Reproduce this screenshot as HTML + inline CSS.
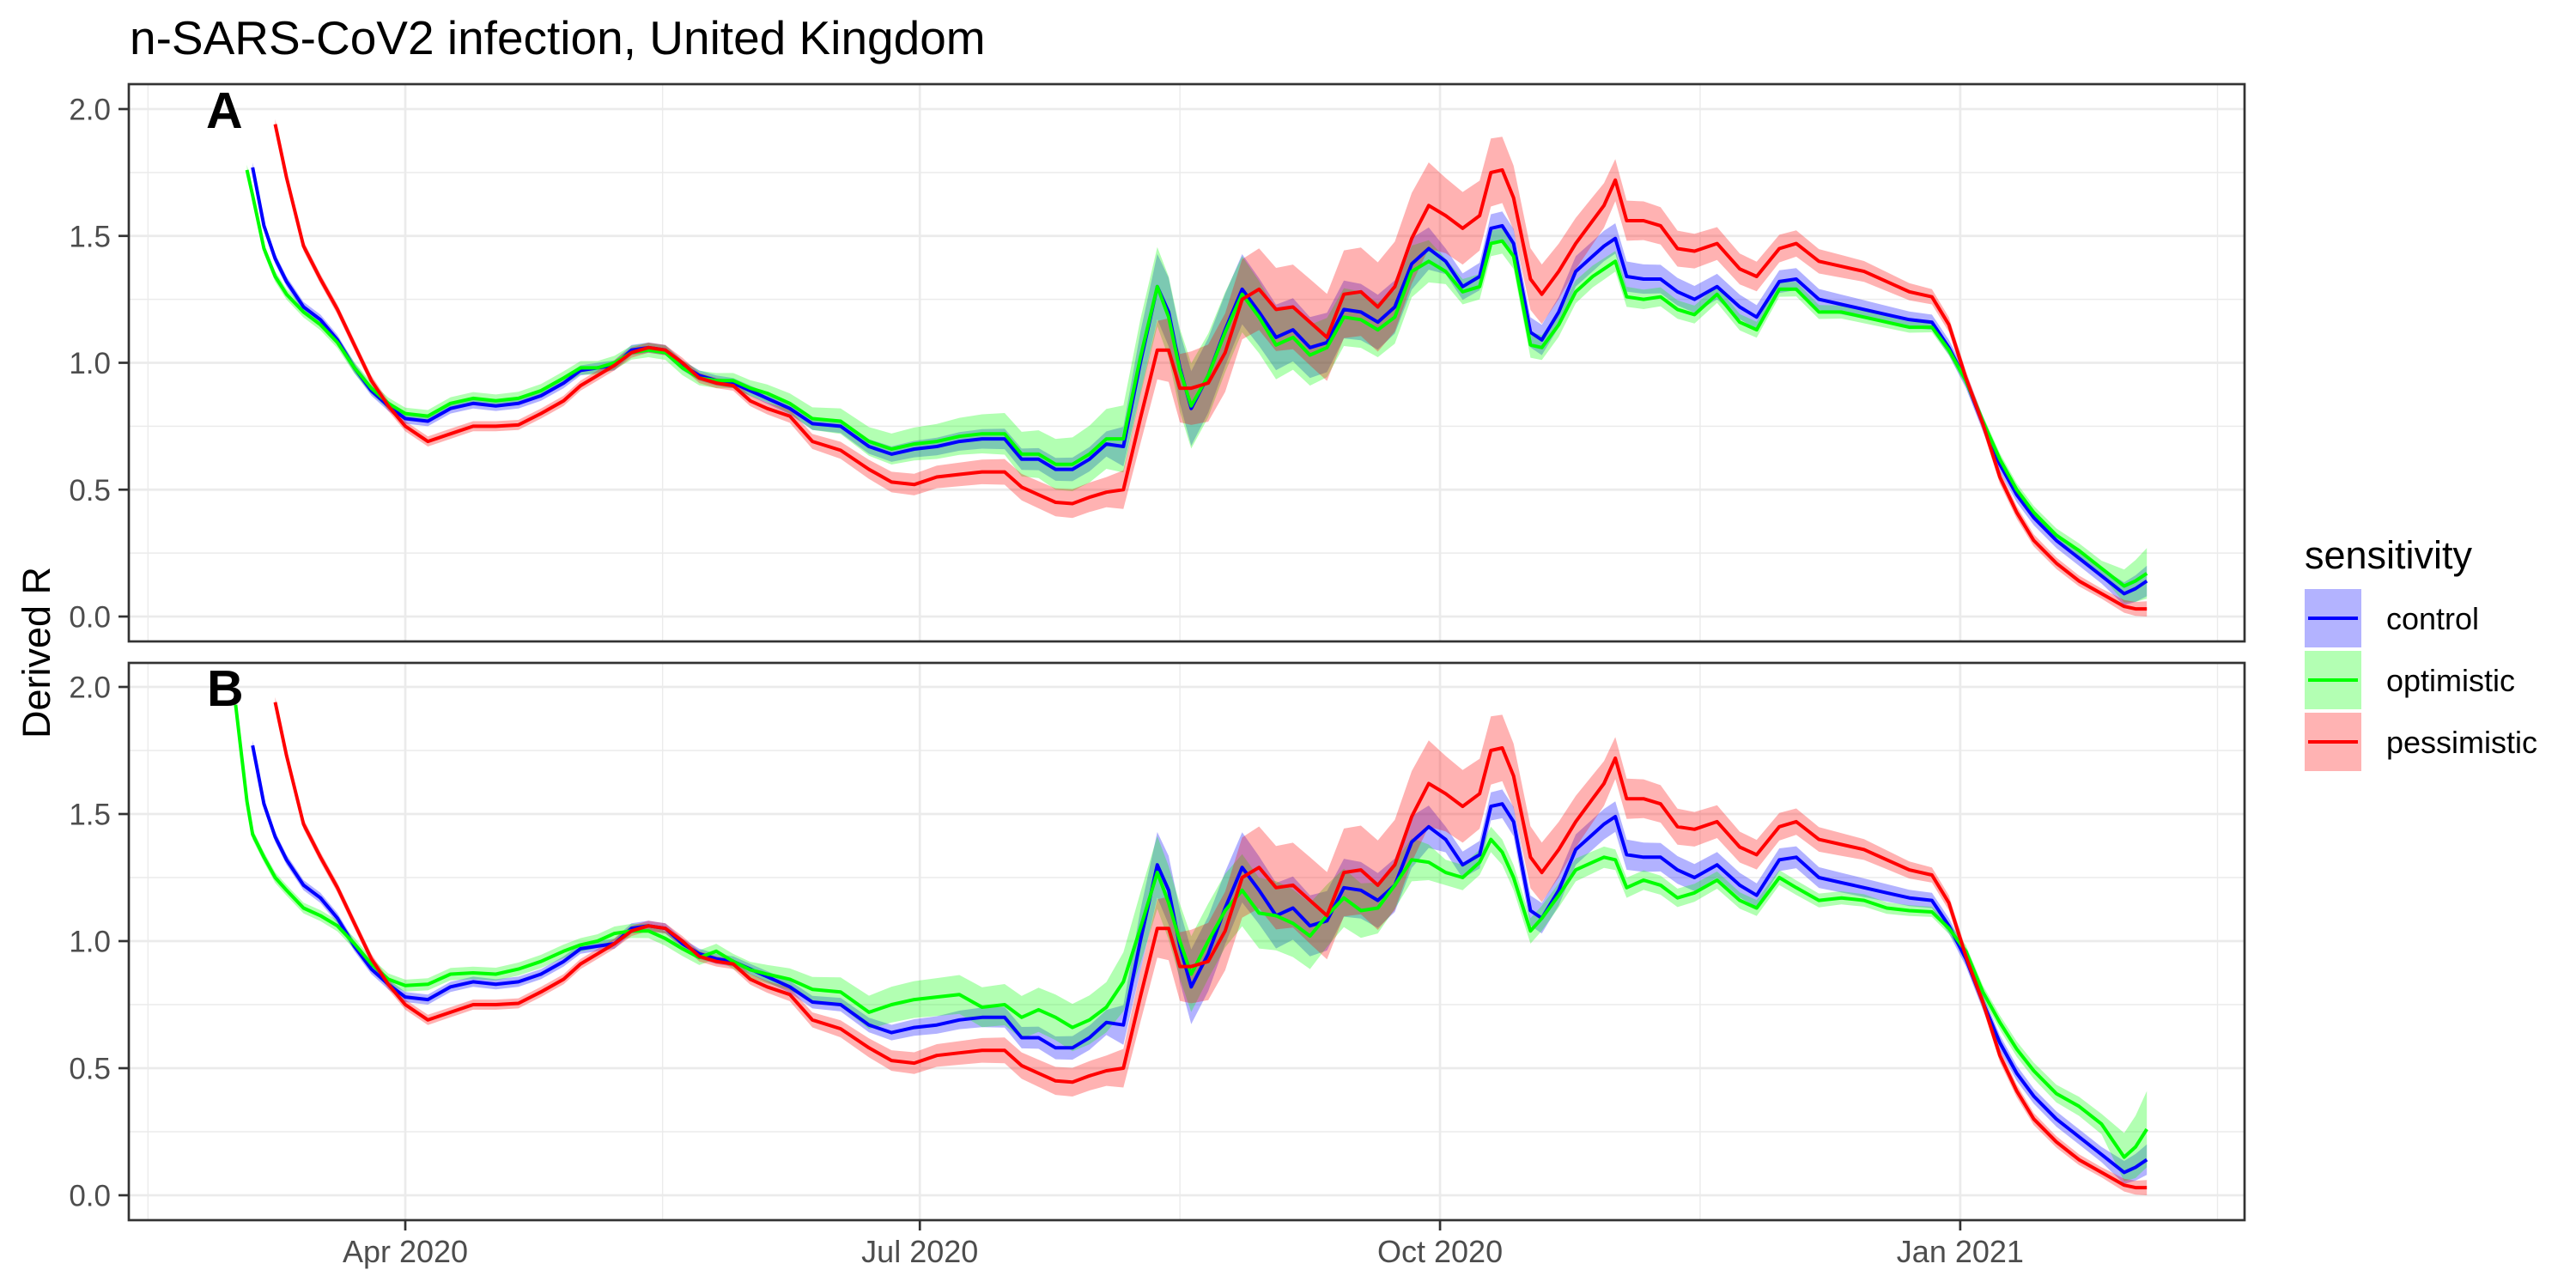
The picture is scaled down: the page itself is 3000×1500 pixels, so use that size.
<!DOCTYPE html>
<html><head><meta charset="utf-8"><style>
html,body{margin:0;padding:0;background:#fff}
svg{display:block;font-family:"Liberation Sans",Arial,sans-serif}
</style></head><body>
<svg id="chart" width="3000" height="1500" viewBox="0 0 3000 1500" xmlns="http://www.w3.org/2000/svg">
<rect width="3000" height="1500" fill="#fff"/>
<text x="151" y="63" font-size="55" fill="#000">n-SARS-CoV2 infection, United Kingdom</text>
<text transform="translate(58,760) rotate(-90)" text-anchor="middle" font-size="45" fill="#000">Derived R</text>
<g id="pA"></g>
<g id="pB"></g>
<g id="xaxis"></g>
<g>
<text x="2684" y="662" font-size="45" fill="#000">sensitivity</text>
<g>
<rect x="2684" y="686" width="66" height="68" fill="#b3b3ff"/><line x1="2688" x2="2746" y1="720" y2="720" stroke="#0000ff" stroke-width="4"/>
<text x="2779" y="733" font-size="36" fill="#000">control</text></g>
<g>
<rect x="2684" y="758" width="66" height="68" fill="#b3ffb3"/><line x1="2688" x2="2746" y1="792" y2="792" stroke="#00ff00" stroke-width="4"/>
<text x="2779" y="805" font-size="36" fill="#000">optimistic</text></g>
<g>
<rect x="2684" y="830" width="66" height="68" fill="#ffb3b3"/><line x1="2688" x2="2746" y1="864" y2="864" stroke="#ff0000" stroke-width="4"/>
<text x="2779" y="877" font-size="36" fill="#000">pessimistic</text></g>
</g>
</svg>
<script>
// days since 1 Apr 2020
const days = [-30,-28,-27,-25,-23,-21,-18,-15,-12,-9,-6,-3,0,4,8,12,16,20,24,28,31,34,37,40,43,46,49,52,55,58,61,64,68,72,77,82,86,90,94,98,102,106,109,112,115,118,121,124,127,130,133,135,137,139,142,145,148,151,154,157,160,163,166,169,172,175,178,181,184,187,190,192,194,196,199,201,204,207,210,212,214,216,219,222,225,228,232,236,239,243,246,250,254,258,262,266,270,273,276,279,282,285,288,292,296,300,304,306,308];
const controlR = [null,null,1.77,1.54,1.41,1.32,1.22,1.17,1.09,0.98,0.89,0.83,0.78,0.77,0.82,0.84,0.83,0.84,0.87,0.92,0.97,0.98,0.99,1.05,1.06,1.05,0.99,0.95,0.93,0.92,0.89,0.86,0.82,0.76,0.75,0.67,0.64,0.66,0.67,0.69,0.70,0.70,0.62,0.62,0.58,0.58,0.62,0.68,0.67,1.00,1.30,1.20,0.98,0.82,0.95,1.13,1.29,1.20,1.10,1.13,1.06,1.08,1.21,1.20,1.16,1.22,1.39,1.45,1.40,1.30,1.34,1.53,1.54,1.47,1.12,1.09,1.20,1.36,1.42,1.46,1.49,1.34,1.33,1.33,1.28,1.25,1.30,1.22,1.18,1.32,1.33,1.25,1.23,1.21,1.19,1.17,1.16,1.06,0.93,0.76,0.60,0.48,0.39,0.30,0.23,0.16,0.09,0.11,0.14];
const optimisticA = [null,1.76,1.66,1.45,1.34,1.27,1.20,1.15,1.08,0.98,0.90,0.84,0.80,0.79,0.84,0.86,0.85,0.86,0.89,0.94,0.98,0.98,1.00,1.04,1.05,1.04,0.98,0.94,0.93,0.93,0.90,0.88,0.84,0.78,0.77,0.69,0.66,0.68,0.69,0.71,0.72,0.72,0.64,0.64,0.60,0.60,0.64,0.70,0.70,1.02,1.30,1.18,0.97,0.83,0.95,1.12,1.27,1.18,1.07,1.10,1.03,1.06,1.18,1.17,1.13,1.18,1.36,1.40,1.36,1.28,1.30,1.47,1.48,1.42,1.07,1.06,1.15,1.28,1.34,1.37,1.40,1.26,1.25,1.26,1.21,1.19,1.27,1.16,1.13,1.29,1.29,1.20,1.20,1.18,1.16,1.14,1.14,1.05,0.93,0.77,0.62,0.50,0.41,0.32,0.26,0.19,0.12,0.14,0.17];
const pessimisticR = [null,null,null,null,1.94,1.73,1.46,1.33,1.21,1.07,0.93,0.83,0.75,0.69,0.72,0.75,0.75,0.755,0.80,0.85,0.91,0.95,0.99,1.04,1.06,1.05,1.00,0.94,0.92,0.91,0.85,0.82,0.79,0.69,0.655,0.58,0.53,0.52,0.55,0.56,0.57,0.57,0.51,0.48,0.45,0.445,0.47,0.49,0.50,0.78,1.05,1.05,0.90,0.90,0.92,1.04,1.25,1.29,1.21,1.22,1.16,1.10,1.27,1.28,1.22,1.30,1.49,1.62,1.58,1.53,1.58,1.75,1.76,1.65,1.33,1.27,1.36,1.47,1.56,1.62,1.72,1.56,1.56,1.54,1.45,1.44,1.47,1.37,1.34,1.45,1.47,1.40,1.38,1.36,1.32,1.28,1.26,1.15,0.94,0.76,0.55,0.41,0.30,0.21,0.14,0.09,0.04,0.03,0.03];
const optimisticB = [1.93,1.55,1.42,1.33,1.25,1.20,1.13,1.10,1.06,0.99,0.91,0.85,0.825,0.83,0.87,0.875,0.87,0.89,0.92,0.96,0.985,1.00,1.03,1.04,1.04,1.01,0.97,0.935,0.96,0.92,0.887,0.87,0.85,0.81,0.80,0.72,0.75,0.77,0.78,0.79,0.74,0.75,0.70,0.73,0.70,0.66,0.69,0.74,0.84,1.05,1.27,1.15,1.00,0.87,1.00,1.12,1.20,1.11,1.10,1.07,1.02,1.10,1.17,1.12,1.13,1.22,1.32,1.31,1.27,1.25,1.31,1.40,1.35,1.25,1.04,1.09,1.18,1.28,1.31,1.33,1.32,1.21,1.24,1.22,1.17,1.19,1.24,1.16,1.13,1.25,1.21,1.16,1.17,1.16,1.13,1.12,1.115,1.05,0.96,0.80,0.68,0.575,0.49,0.40,0.35,0.28,0.15,0.19,0.26];
// uncertainty half-widths at coarse days
const wDays = [-30,60,85,105,125,130,140,160,180,183,200,215,270,300,308];
const wControl = [0.02,0.02,0.03,0.04,0.05,0.12,0.15,0.12,0.10,0.05,0.06,0.06,0.03,0.03,0.06];
const wOptA = [0.02,0.03,0.06,0.08,0.12,0.15,0.17,0.12,0.10,0.05,0.05,0.04,0.02,0.03,0.10];
const wPess = [0.02,0.02,0.04,0.05,0.06,0.10,0.15,0.17,0.18,0.15,0.12,0.08,0.03,0.02,0.03];
const wOptB = [0.02,0.03,0.07,0.08,0.10,0.14,0.15,0.13,0.08,0.05,0.05,0.04,0.02,0.04,0.15];
const yTicks = [0,0.5,1,1.5,2];
const yTickLabels = ["0.0","0.5","1.0","1.5","2.0"];
const xTicks = [0,91,183,275];
const xTickLabels = ["Apr 2020","Jul 2020","Oct 2020","Jan 2021"];
const xMinor = [-45.5,45.5,137,229,320.5];
const yMinor = [0.25,0.75,1.25,1.75];

const NS="http://www.w3.org/2000/svg";
const X0=150,X1=2614;
const xs=d=>472+d*6.585;
function mk(tag,attrs,parent){const e=document.createElementNS(NS,tag);for(const k in attrs)e.setAttribute(k,attrs[k]);parent.appendChild(e);return e;}
function interpW(wArr,d){for(let i=0;i<wDays.length-1;i++){if(d<=wDays[i+1]){const t=(d-wDays[i])/(wDays[i+1]-wDays[i]);return wArr[i]+t*(wArr[i+1]-wArr[i]);}}return wArr[wArr.length-1];}
function panel(g,top,bottom,y0,scale,series,letter,lx,ly){
  const ys=v=>y0-v*scale;
  yMinor.forEach(v=>{const l=mk('line',{x1:X0,x2:X1,y1:ys(v),y2:ys(v),stroke:'#ebebeb','stroke-width':1.4},g);});
  xMinor.forEach(d=>{const l=mk('line',{x1:xs(d),x2:xs(d),y1:top,y2:bottom,stroke:'#ebebeb','stroke-width':1.4},g);});
  yTicks.forEach(v=>{const l=mk('line',{x1:X0,x2:X1,y1:ys(v),y2:ys(v),stroke:'#ebebeb','stroke-width':2.7},g);});
  xTicks.forEach(d=>{const l=mk('line',{x1:xs(d),x2:xs(d),y1:top,y2:bottom,stroke:'#ebebeb','stroke-width':2.7},g);});
  series.forEach(s=>{
    let up=[],lo=[];
    days.forEach((d,i)=>{const v=s.vals[i];if(v===null)return;const w=interpW(s.w,d);up.push([xs(d),ys(v+w)]);lo.push([xs(d),ys(Math.max(0,v-w))]);});
    const pts=up.concat(lo.reverse()).map(p=>p[0].toFixed(1)+','+p[1].toFixed(1)).join(' ');
    const p=mk('polygon',{points:pts,fill:s.color,'fill-opacity':0.3},g);
    
    
  });
  series.forEach(s=>{
    let dstr='',pen=false;
    days.forEach((d,i)=>{const v=s.vals[i];if(v===null){pen=false;return;}dstr+=(pen?'L':'M')+xs(d).toFixed(1)+','+ys(v).toFixed(1);pen=true;});
    const p=mk('path',{d:dstr,fill:'none',stroke:s.color,'stroke-width':4,'stroke-linejoin':'round'},g);
    
    
  });
  const b=mk('rect',{x:X0,y:top,width:X1-X0,height:bottom-top,fill:'none',stroke:'#333','stroke-width':2.7},g);
  
  
  yTicks.forEach((v,i)=>{
    const t=mk('line',{x1:138,x2:X0,y1:ys(v),y2:ys(v),stroke:'#333','stroke-width':2.7},g);
    
    
    const tx=mk('text',{x:129,y:ys(v)+12.5,'text-anchor':'end','font-size':35,fill:'#4d4d4d'},g);
    tx.textContent=yTickLabels[i];
    
    
  });
  const L=mk('text',{x:lx,y:ly,'font-size':59,'font-weight':'bold',fill:'#000'},g);
  L.textContent=letter;
  
  
}
panel(document.getElementById('pA'),98,747,718,295.5,[
  {name:'control',vals:controlR,w:wControl,color:'#0000ff'},
  {name:'optimistic',vals:optimisticA,w:wOptA,color:'#00ff00'},
  {name:'pessimistic',vals:pessimisticR,w:wPess,color:'#ff0000'}],'A',240,149);
panel(document.getElementById('pB'),772,1421,1392,296,[
  {name:'control',vals:controlR,w:wControl,color:'#0000ff'},
  {name:'optimistic',vals:optimisticB,w:wOptB,color:'#00ff00'},
  {name:'pessimistic',vals:pessimisticR,w:wPess,color:'#ff0000'}],'B',241,822);
const xa=document.getElementById('xaxis');
xTicks.forEach((d,i)=>{
  const t=mk('line',{x1:xs(d),x2:xs(d),y1:1421,y2:1433,stroke:'#333','stroke-width':2.7},xa);
  
  
  const tx=mk('text',{x:xs(d),y:1470,'text-anchor':'middle','font-size':36,fill:'#4d4d4d'},xa);
  tx.textContent=xTickLabels[i];
  
  
});
</script>
</body></html>
